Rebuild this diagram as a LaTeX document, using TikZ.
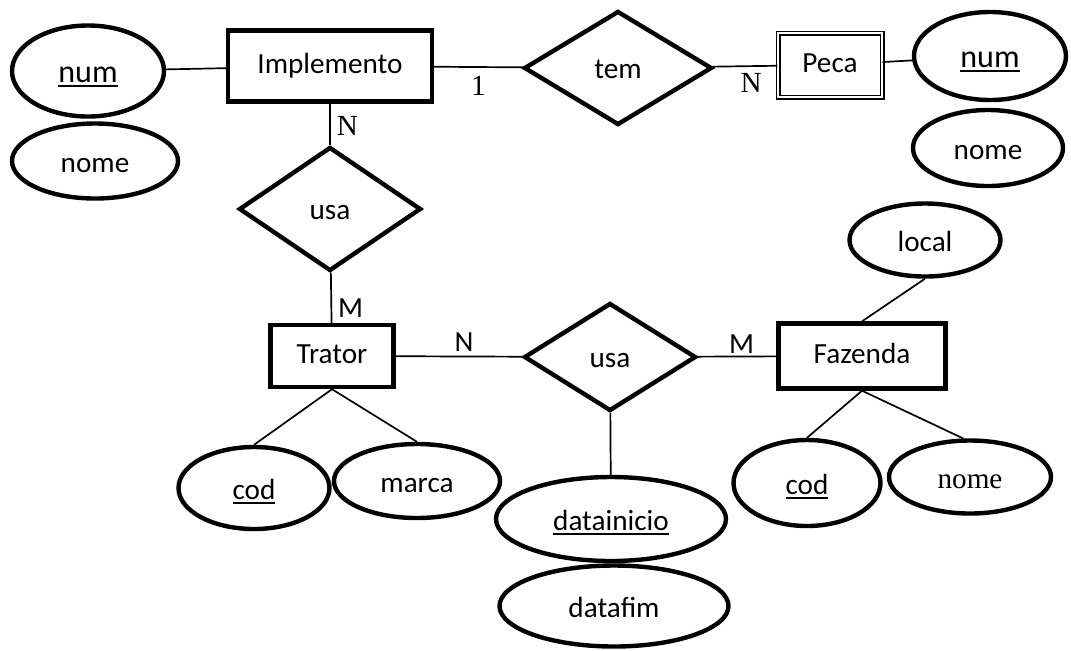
\documentclass[tikz,border=0pt]{standalone}
\usepackage{fontspec}
\setmainfont{Carlito}
\newfontfamily\timesfont{Liberation Serif}
\usetikzlibrary{shapes.geometric, positioning}
\newcommand{\keyattr}[1]{\sbox0{#1}\rlap{\rule[-2.6pt]{\wd0}{1pt}}\usebox0} % underlined key attribute
\tikzset{
every node/.style={font=\fontsize{14.6pt}{17pt}\selectfont}, % one size for all the text
entity/.style={draw, rectangle, line width=2.2pt, inner sep=0pt, text height=9.5pt, text depth=2.5pt}, % entity boxes
weak/.style={draw, rectangle, double, double distance=1.3pt, line width=0.6pt, inner sep=0pt, text height=9.5pt, text depth=2.5pt}, % weak entity
rel/.style={draw, diamond, line width=2.2pt, inner sep=0pt, text height=12pt, text depth=2pt}, % relationships
attr/.style={draw, ellipse, line width=2.2pt, inner sep=0pt, text height=13pt, text depth=2pt}, % attributes
card/.style={inner sep=1pt}, % cardinalities on the lines
link/.style={line width=0.85pt}, % plain connecting lines
}

\begin{document}
\begin{tikzpicture}[x=0.5pt, y=-0.5pt]
\useasboundingbox (0,0) rectangle (1071,650);
% entities
\node[entity, minimum width=102pt, minimum height=35.5pt] (impl) at (330,66) {Implemento};
\node[weak, minimum width=52pt, minimum height=32pt] (peca) at (830,65) {Peca};
\node[entity, minimum width=61.5pt, minimum height=31pt] (trat) at (332,356) {Trator};
\node[entity, minimum width=83.5pt, minimum height=32.5pt] (faz) at (862,356) {Fazenda};
% relationships
\node[rel, minimum width=94pt, minimum height=57pt] (tem) at (618,68) {tem};
\node[rel, minimum width=91pt, minimum height=62pt] (usa1) at (330,209) {usa};
\node[rel, minimum width=86pt, minimum height=54pt] (usa2) at (610,357) {usa};
% attributes
\node[attr, minimum width=76pt, minimum height=45.5pt, font=\fontsize{16pt}{18pt}\selectfont] (numI) at (88,71) {\keyattr{num}};
\node[attr, minimum width=83pt, minimum height=37.5pt] (nomeI) at (95,161) {nome};
\node[attr, minimum width=76pt, minimum height=44pt, font=\fontsize{16pt}{18pt}\selectfont] (numP) at (990,56) {\keyattr{num}};
\node[attr, minimum width=75pt, minimum height=38pt] (nomeP) at (988,148) {nome};
\node[attr, minimum width=75.5pt, minimum height=36.5pt] (local) at (925,240) {local};
\node[attr, minimum width=75.5pt, minimum height=41pt] (codT) at (254,488) {\keyattr{cod}};
\node[attr, minimum width=83pt, minimum height=37pt] (marca) at (417,481) {marca};
\node[attr, minimum width=115pt, minimum height=42pt] (dini) at (611,519) {\keyattr{datainicio}};
\node[attr, minimum width=114.5pt, minimum height=40.5pt] (dfim) at (614,606) {datafim};
\node[attr, minimum width=73.5pt, minimum height=43pt] (codF) at (807,483) {\keyattr{cod}};
\node[attr, minimum width=81pt, minimum height=36.5pt] (nomeF) at (970,477) {\timesfont nome};

\draw[link] (impl) edge node[card, pos=0.5, below=3pt]{\timesfont 1} (tem)
 (tem) edge node[card, pos=0.6, below=2pt]{\timesfont N} (peca)
 (impl) edge node[card, pos=0.55, right=2pt]{\timesfont N} (usa1)
 (usa1) edge node[card, pos=0.7, right=2pt]{M} (trat)
 (trat) edge node[card, pos=0.54, above=1pt]{N} (usa2)
 (usa2) edge node[card, pos=0.56, above=0pt]{M} (faz);
\draw[link] (numI) -- (impl);
\draw[link] (peca) -- (numP);
\draw[link] (trat.south) -- (codT.north);
\draw[link] (trat.south) -- (marca.north);
\draw[link] (usa2) -- (dini);
\draw[link] (faz.north) -- (local.south);
\draw[link] (faz.south) -- (codF.north);
\draw[link] (faz.south) -- (nomeF.100);
\end{tikzpicture}
\end{document}
